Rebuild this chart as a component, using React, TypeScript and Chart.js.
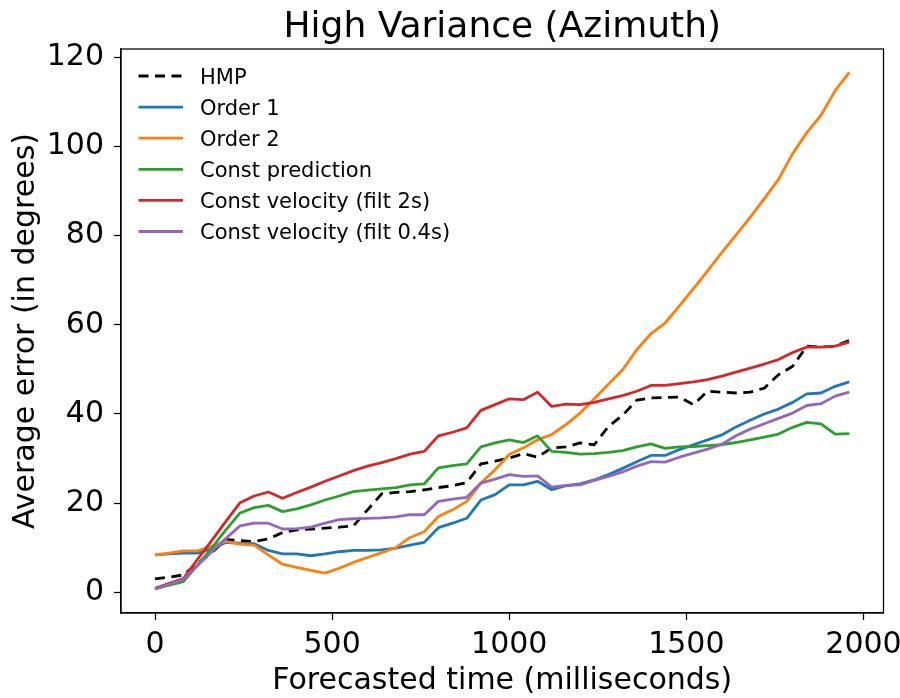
import React, { useEffect, useRef } from "react";
import { Chart, registerables } from "chart.js";

Chart.register(...registerables);

const FONT = "'DejaVu Sans', 'Liberation Sans', sans-serif";
const TITLE = "High Variance (Azimuth)";
const X_LABEL = "Forecasted time (milliseconds)";
const Y_LABEL = "Average error (in degrees)";

const times = [
  0, 40, 80, 120, 160, 200, 240, 280, 320, 360,
  400, 440, 480, 520, 560, 600, 640, 680, 720, 760,
  800, 840, 880, 920, 960, 1000, 1040, 1080, 1120, 1160,
  1200, 1240, 1280, 1320, 1360, 1400, 1440, 1480, 1520, 1560,
  1600, 1640, 1680, 1720, 1760, 1800, 1840, 1880, 1920, 1960,
];

const hmp = [
  3.0, 3.4, 3.9, 6.5, 8.9, 11.8, 11.6, 11.4, 12.0, 13.4,
  14.0, 14.2, 14.4, 14.6, 14.9, 18.5, 22.1, 22.4, 22.6, 23.0,
  23.5, 23.9, 24.6, 28.8, 29.4, 30.1, 31.1, 30.3, 32.4, 32.6,
  33.5, 33.1, 37.2, 39.7, 43.1, 43.6, 43.7, 43.8, 42.1, 45.1,
  44.9, 44.7, 44.9, 45.8, 48.8, 50.7, 55.2, 55.0, 55.2, 56.5,
];

const order1 = [
  8.4, 8.6, 8.8, 8.8, 9.8, 11.2, 11.0, 10.9, 9.4, 8.6,
  8.6, 8.2, 8.6, 9.1, 9.4, 9.4, 9.5, 9.9, 10.6, 11.2,
  14.5, 15.5, 16.6, 20.7, 21.9, 24.1, 24.1, 24.9, 23.0, 23.9,
  24.3, 25.2, 26.4, 27.8, 29.3, 30.7, 30.7, 32.0, 33.1, 34.2,
  35.3, 37.1, 38.6, 40.0, 41.1, 42.6, 44.5, 44.7, 46.2, 47.2,
];

const order2 = [
  8.4, 8.8, 9.3, 9.3, 10.3, 11.4, 10.8, 10.6, 8.4, 6.3,
  5.6, 4.9, 4.3, 5.4, 6.7, 7.8, 8.9, 10.0, 12.3, 13.6,
  17.0, 18.5, 20.4, 24.5, 27.5, 30.9, 32.4, 34.2, 35.4, 37.6,
  40.2, 43.4, 46.7, 49.9, 54.4, 58.0, 60.4, 64.2, 68.1, 72.1,
  76.2, 80.1, 84.1, 88.3, 92.6, 98.4, 103.1, 107.0, 112.5, 116.6,
];

const constPrediction = [
  0.75, 1.6, 2.4, 6.1, 9.9, 14.0, 17.8, 19.0, 19.5, 18.1,
  18.7, 19.6, 20.7, 21.6, 22.6, 22.9, 23.2, 23.5, 24.1, 24.3,
  27.9, 28.4, 28.8, 32.6, 33.5, 34.2, 33.6, 35.1, 31.6, 31.4,
  31.0, 31.1, 31.4, 31.8, 32.6, 33.3, 32.3, 32.6, 32.7, 32.9,
  33.1, 33.6, 34.2, 34.8, 35.5, 37.0, 38.1, 37.8, 35.5, 35.6,
];

const constVelocity2s = [
  0.9, 2.0, 3.1, 7.4, 11.6, 15.9, 20.1, 21.6, 22.5, 21.1,
  22.4, 23.6, 24.9, 26.1, 27.3, 28.3, 29.1, 30.0, 31.0, 31.6,
  35.1, 35.9, 36.9, 40.8, 42.1, 43.4, 43.2, 44.9, 41.7, 42.2,
  42.1, 42.6, 43.4, 44.1, 45.1, 46.4, 46.4, 46.8, 47.2, 47.7,
  48.5, 49.4, 50.3, 51.2, 52.2, 53.8, 55.0, 55.0, 55.2, 56.1,
];

const constVelocity04s = [
  0.75, 1.8, 2.9, 6.0, 9.1, 12.1, 14.9, 15.5, 15.5, 14.2,
  14.3, 14.6, 15.5, 16.3, 16.5, 16.6, 16.7, 16.9, 17.4, 17.4,
  20.4, 20.9, 21.3, 24.5, 25.4, 26.4, 26.0, 26.1, 23.6, 24.0,
  24.1, 25.1, 26.0, 27.0, 28.3, 29.3, 29.2, 30.3, 31.2, 32.1,
  33.2, 35.1, 36.6, 37.8, 39.0, 40.2, 41.9, 42.3, 44.0, 44.9,
];

const seriesNames = [
  "HMP",
  "Order 1",
  "Order 2",
  "Const prediction",
  "Const velocity (filt 2s)",
  "Const velocity (filt 0.4s)",
];
const seriesValues = [hmp, order1, order2, constPrediction, constVelocity2s, constVelocity04s];
const seriesColors = ["#000000", "#1f77b4", "#ff7f0e", "#2ca02c", "#d62728", "#9467bd"];

const xTicks = [0, 500, 1000, 1500, 2000];
const yTicks = [0, 20, 40, 60, 80, 100, 120];

const decorPlugin = {
  id: "decor",
  afterDraw(chart: any) {
    const { ctx, chartArea: a } = chart;
    ctx.save();
    ctx.strokeStyle = "#000";
    ctx.lineWidth = 1.25;
    ctx.setLineDash([]);
    ctx.strokeRect(a.left, a.top, a.right - a.left, a.bottom - a.top);

    ctx.fillStyle = "#000";
    ctx.font = `36px ${FONT}`;
    ctx.textAlign = "center";
    ctx.textBaseline = "alphabetic";
    ctx.fillText(TITLE, (a.left + a.right) / 2, 37);

    ctx.font = `21px ${FONT}`;
    ctx.textAlign = "left";
    chart.data.datasets.forEach((d: any, i: number) => {
      const y = a.top + 27 + i * 31.1;
      ctx.beginPath();
      ctx.setLineDash(d.borderDash || []);
      ctx.strokeStyle = d.borderColor;
      ctx.lineWidth = 2.8;
      ctx.lineCap = "butt";
      ctx.moveTo(a.left + 17.5, y);
      ctx.lineTo(a.left + 62, y);
      ctx.stroke();
      ctx.setLineDash([]);
      ctx.fillStyle = "#000";
      ctx.fillText(d.label, a.left + 79, y + 7.6);
    });
    ctx.restore();
  },
};

export default function App() {
  const ref = useRef<HTMLCanvasElement | null>(null);

  useEffect(() => {
    if (!ref.current) return;
    const datasets = seriesValues.map((vals, i) => ({
      label: seriesNames[i],
      data: times.map((t, j) => ({ x: t, y: vals[j] })),
      borderColor: seriesColors[i],
      backgroundColor: seriesColors[i],
      borderWidth: 2.8,
      borderDash: i === 0 ? [10, 6.5] : [],
      borderCapStyle: "butt" as const,
      borderJoinStyle: "round" as const,
      pointRadius: 0,
      tension: 0,
      fill: false,
      order: seriesValues.length - 1 - i,
    }));

    const axisGrid = {
      display: true,
      drawOnChartArea: false,
      drawTicks: true,
      tickLength: 7,
      tickWidth: 1.25,
      tickColor: "#000",
      color: "#000",
    };

    const chart = new Chart(ref.current, {
      type: "line",
      data: { datasets },
      options: {
        responsive: false,
        animation: false,
        devicePixelRatio: 1,
        layout: { padding: { top: 49, right: 16.5, bottom: 0, left: 0 } },
        plugins: {
          legend: { display: false },
          title: { display: false },
          tooltip: { enabled: false },
        },
        scales: {
          x: {
            type: "linear",
            min: -96,
            max: 2056.5,
            afterBuildTicks: (s: any) => {
              s.ticks = xTicks.map((v) => ({ value: v }));
            },
            afterFit: (s: any) => {
              s.height = 85;
              s.paddingLeft = 0;
              s.paddingRight = 0;
            },
            grid: axisGrid,
            border: { display: true, color: "#000", width: 1.25 },
            ticks: {
              font: { family: FONT, size: 30 },
              color: "#000",
              padding: 7,
              maxRotation: 0,
              autoSkip: false,
              callback: (v: any) => String(v),
            },
            title: {
              display: true,
              text: X_LABEL,
              font: { family: FONT, size: 30 },
              color: "#000",
              padding: { top: 0, bottom: -1 },
            },
          },
          y: {
            type: "linear",
            min: -4.64,
            max: 121.86,
            afterBuildTicks: (s: any) => {
              s.ticks = yTicks.map((v) => ({ value: v }));
            },
            afterFit: (s: any) => {
              s.width = 121;
              s.paddingTop = 0;
              s.paddingBottom = 0;
            },
            grid: axisGrid,
            border: { display: true, color: "#000", width: 1.25 },
            ticks: {
              font: { family: FONT, size: 30 },
              color: "#000",
              padding: 10,
              autoSkip: false,
              callback: (v: any) => String(v),
            },
            title: {
              display: true,
              text: Y_LABEL,
              font: { family: FONT, size: 30 },
              color: "#000",
              padding: { top: 8, bottom: 0 },
            },
          },
        },
      },
      plugins: [decorPlugin],
    });
    return () => chart.destroy();
  }, []);

  return (
    <div style={{ position: "absolute", left: 0, top: 0, width: 900, height: 698, background: "#fff" }}>
      <canvas ref={ref} width={900} height={698} style={{ display: "block", width: 900, height: 698 }} />
    </div>
  );
}
